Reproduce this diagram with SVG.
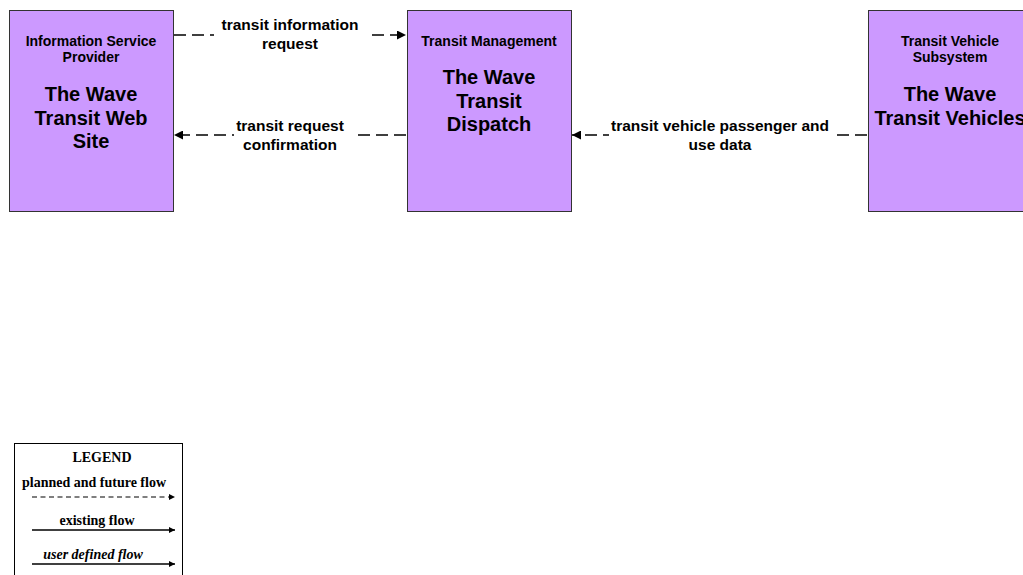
<svg xmlns="http://www.w3.org/2000/svg" width="1023" height="575" viewBox="0 0 1023 575">
<defs>
<style>
.box{fill:#CC99FF;stroke:#333;stroke-width:1}
.cls{font-family:"Liberation Sans",Arial,sans-serif;font-weight:bold;font-size:14px;text-anchor:middle;fill:#000}
.nm{font-family:"Liberation Sans",Arial,sans-serif;font-weight:bold;font-size:20px;text-anchor:middle;fill:#000}
.lbl{font-family:"Liberation Sans",Arial,sans-serif;font-weight:bold;font-size:15.5px;text-anchor:middle;fill:#000}
.flow{fill:none;stroke:#000;stroke-width:1.3;stroke-dasharray:12 6}
.lg{font-family:"Liberation Serif","Times New Roman",serif;font-weight:bold;font-size:14px;text-anchor:middle;fill:#000}
</style>
<marker id="ah" viewBox="0 0 10 10" refX="10" refY="5" markerWidth="9" markerHeight="9" markerUnits="userSpaceOnUse" orient="auto">
<path d="M0,0 L10,5 L0,10 z" fill="#000"/>
</marker>
<marker id="ahs" viewBox="0 0 10 10" refX="10" refY="5" markerWidth="7" markerHeight="6" markerUnits="userSpaceOnUse" orient="auto">
<path d="M0,0 L10,5 L0,10 z" fill="#000"/>
</marker>
</defs>
<rect width="1023" height="575" fill="#fff"/>
<g id="connectors">
<g id="c1">
<line class="flow" x1="174" y1="35" x2="406" y2="35" marker-end="url(#ah)"/>
<rect x="214" y="14" width="152" height="40" fill="#fff"/>
<text class="lbl" x="290" y="30">transit information</text>
<text class="lbl" x="290" y="49">request</text>
</g>
<g id="c2">
<line class="flow" x1="406" y1="135" x2="174" y2="135" marker-end="url(#ah)"/>
<rect x="234" y="117" width="118" height="38" fill="#fff"/>
<text class="lbl" x="290" y="131">transit request</text>
<text class="lbl" x="290" y="150">confirmation</text>
</g>
<g id="c3">
<line class="flow" x1="867" y1="135" x2="572" y2="135" marker-end="url(#ah)"/>
<rect x="609" y="117" width="222" height="38" fill="#fff"/>
<text class="lbl" x="720" y="131">transit vehicle passenger and</text>
<text class="lbl" x="720" y="150">use data</text>
</g>
</g>
<g id="n1">
<rect class="box" x="9.5" y="10.5" width="164" height="201"/>
<text class="cls" x="91" y="46">Information Service</text>
<text class="cls" x="91" y="62">Provider</text>
<text class="nm" x="91" y="101">The Wave</text>
<text class="nm" x="91" y="124.5">Transit Web</text>
<text class="nm" x="91" y="148">Site</text>
</g>
<g id="n2">
<rect class="box" x="407.5" y="10.5" width="164" height="201"/>
<text class="cls" x="489" y="46">Transit Management</text>
<text class="nm" x="489" y="84">The Wave</text>
<text class="nm" x="489" y="107.5">Transit</text>
<text class="nm" x="489" y="131">Dispatch</text>
</g>
<g id="n3">
<rect class="box" x="868.5" y="10.5" width="164" height="201"/>
<text class="cls" x="950" y="46">Transit Vehicle</text>
<text class="cls" x="950" y="62">Subsystem</text>
<text class="nm" x="950" y="101">The Wave</text>
<text class="nm" x="950" y="124.5">Transit Vehicles</text>
</g>
<g id="legend">
<rect x="14.5" y="443.5" width="168" height="140" fill="#fff" stroke="#000" stroke-width="1"/>
<text class="lg" x="102" y="462">LEGEND</text>
<text class="lg" x="94" y="487">planned and future flow</text>
<line x1="32" y1="497" x2="175" y2="497" stroke="#000" stroke-width="1.2" stroke-dasharray="5 3.5" marker-end="url(#ahs)"/>
<text class="lg" x="97" y="525">existing flow</text>
<line x1="32" y1="530" x2="175" y2="530" stroke="#000" stroke-width="1.3" marker-end="url(#ahs)"/>
<text class="lg" x="93" y="559" font-style="italic">user defined flow</text>
<line x1="32" y1="564" x2="175" y2="564" stroke="#000" stroke-width="1.3" marker-end="url(#ahs)"/>
</g>
</svg>
